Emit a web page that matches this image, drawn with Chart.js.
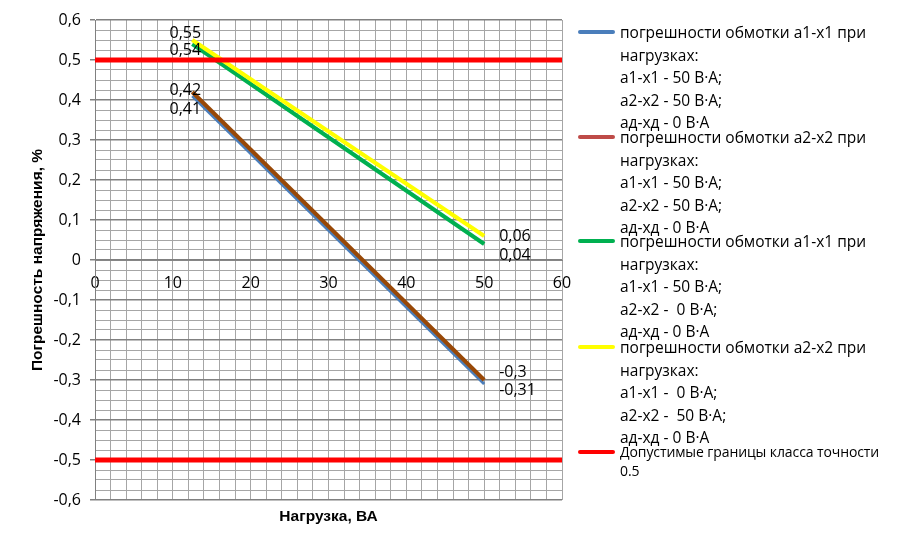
<!DOCTYPE html>
<html>
<head>
<meta charset="utf-8">
<script src="https://cdn.jsdelivr.net/npm/chart.js@4.4.0/dist/chart.umd.min.js"></script>
<style>
html, body { margin: 0; padding: 0; background: #fff; }
#wrap { position: relative; width: 905px; height: 548px; }
#legend { position: absolute; left: 0; top: 0; font-family: "Open Sans", sans-serif; color: #000; }
.item { position: absolute; left: 578px; }
.mark { position: absolute; left: 0; width: 37px; height: 4px; border-radius: 2px; }
.txt { position: absolute; left: 42px; top: -11px; white-space: pre; font-size: 15.5px; line-height: 22.5px; }
.txt.small { font-size: 14px; line-height: 19px; top: -10px; letter-spacing: -0.1px; }
</style>
</head>
<body>
<div id="wrap">
  <canvas id="errChart" width="905" height="548"></canvas>
  <div id="legend"></div>
</div>
<script>
// нагрузка, ВА
var loads = [12.5, 50];
// погрешности напряжения, %
var errA1Both = [0.41, -0.31];
var errA2Both = [0.42, -0.3];
var errA1Only = [0.54, 0.04];
var errA2Only = [0.55, 0.06];
// допустимые границы
var limitX = [0, 60];
var limitUpper = [0.5, 0.5];
var limitLower = [-0.5, -0.5];

var xTickLabels = [0, 10, 20, 30, 40, 50, 60];
var yTickLabels = [-0.6, -0.5, -0.4, -0.3, -0.2, -0.1, 0, 0.1, 0.2, 0.3, 0.4, 0.5, 0.6];

var seriesNames = [
    'погрешности обмотки а1-х1 при\nнагрузках:\nа1-х1 - 50 В·А;\nа2-х2 - 50 В·А;\nад-хд - 0 В·А',
    'погрешности обмотки а2-х2 при\nнагрузках:\nа1-х1 - 50 В·А;\nа2-х2 - 50 В·А;\nад-хд - 0 В·А',
    'погрешности обмотки а1-х1 при\nнагрузках:\nа1-х1 - 50 В·А;\nа2-х2 -  0 В·А;\nад-хд - 0 В·А',
    'погрешности обмотки а2-х2 при\nнагрузках:\nа1-х1 -  0 В·А;\nа2-х2 -  50 В·А;\nад-хд - 0 В·А',
    'Допустимые границы класса точности\n0.5'
];

var numFont = '"Open Sans", sans-serif';
var titleFont = '"Liberation Sans", Arial, sans-serif';

function pts(xs, ys) {
    return xs.map(function (x, i) { return { x: x, y: ys[i] }; });
}
function fmt(v) {
    var r = Math.round(v * 100) / 100;
    if (r === 0) return '0';
    return String(r).replace('.', ',');
}
function isMajorY(v) {
    return Math.round(v * 40) % 4 === 0;
}

// подписи значений на концах линий
var valueLabels = {
    id: 'valueLabels',
    afterDatasetsDraw: function (chart) {
        var ctx = chart.ctx;
        ctx.save();
        ctx.font = '16px ' + numFont;
        ctx.fillStyle = '#000';
        ctx.textBaseline = 'middle';
        chart.data.datasets.forEach(function (ds, i) {
            if (!ds.labelShift) return;
            var meta = chart.getDatasetMeta(i);
            var first = meta.data[0], last = meta.data[meta.data.length - 1];
            ctx.textAlign = 'center';
            ctx.fillText(fmt(ds.data[0].y), first.x + ds.labelShift.start[0], first.y + ds.labelShift.start[1]);
            ctx.textAlign = 'left';
            ctx.fillText(fmt(ds.data[ds.data.length - 1].y), last.x + ds.labelShift.end[0], last.y + ds.labelShift.end[1]);
        });
        ctx.restore();
    }
};

var ctx = document.getElementById('errChart').getContext('2d');

var errChart = new Chart(ctx, {
    type: 'scatter',
    data: {
        datasets: [
            { data: pts(limitX, limitUpper), borderColor: '#ff0000', borderWidth: 5 },
            { data: pts(limitX, limitLower), borderColor: '#ff0000', borderWidth: 5 },
            { data: pts(loads, errA2Only), borderColor: '#ffff00', borderWidth: 4, labelShift: { start: [-7, -7], end: [15, 0] } },
            { data: pts(loads, errA1Only), borderColor: '#00b050', borderWidth: 4, labelShift: { start: [-7, 6], end: [15, 11] } },
            { data: pts(loads, errA2Both), borderColor: '#984807', borderWidth: 4, labelShift: { start: [-7, -2], end: [15, -8] } },
            { data: pts(loads, errA1Both), borderColor: '#4a7ebb', borderWidth: 3, labelShift: { start: [-7, 13], end: [15, 6] } }
        ].map(function (d) {
            d.showLine = true;
            d.pointRadius = 0;
            d.pointHoverRadius = 0;
            d.fill = false;
            d.tension = 0;
            return d;
        })
    },
    options: {
        responsive: false,
        animation: false,
        layout: { padding: { top: 20, right: 343, left: 0, bottom: 0 } },
        plugins: {
            legend: { display: false },
            tooltip: { enabled: false }
        },
        scales: {
            x: {
                type: 'linear',
                min: 0,
                max: 60,
                position: { y: 0 },
                ticks: {
                    stepSize: 2,
                    autoSkip: false,
                    maxTicksLimit: 100,
                    maxRotation: 0,
                    padding: 14,
                    color: '#000',
                    font: { family: numFont, size: 16 },
                    callback: function (v) { return xTickLabels.indexOf(v) >= 0 ? String(v) : ''; }
                },
                grid: { color: '#a6a6a6', lineWidth: 1, drawTicks: false },
                border: { color: '#868686' }
            },
            x2: {
                type: 'linear',
                position: 'bottom',
                min: 0,
                max: 60,
                ticks: { display: false },
                grid: { display: false },
                border: { display: false },
                title: {
                    display: true,
                    text: 'Нагрузка, ВА',
                    color: '#000',
                    font: { family: titleFont, size: 15.5, weight: 'bold' },
                    padding: { top: 0, bottom: 22 }
                },
                afterFit: function (s) { s.height = 48; }
            },
            y: {
                min: -0.6,
                max: 0.6,
                ticks: {
                    stepSize: 0.025,
                    autoSkip: false,
                    maxTicksLimit: 100,
                    padding: 9,
                    color: '#000',
                    font: { family: numFont, size: 16 },
                    callback: function (v) {
                        var t = Math.round(v * 10) / 10;
                        if (!isMajorY(v) || yTickLabels.indexOf(t) < 0) return '';
                        return fmt(t);
                    }
                },
                grid: {
                    color: function (c) { return c.tick && isMajorY(c.tick.value) ? '#808080' : '#a6a6a6'; },
                    lineWidth: function (c) { return c.tick && isMajorY(c.tick.value) ? 1.5 : 1; },
                    tickLength: 5,
                    tickColor: function (c) { return c.tick && isMajorY(c.tick.value) ? '#808080' : 'rgba(0,0,0,0)'; }
                },
                border: { color: '#808080' },
                title: {
                    display: true,
                    text: 'Погрешность напряжения, %',
                    color: '#000',
                    font: { family: titleFont, size: 15.5, weight: 'bold' },
                    padding: { top: 28, bottom: 0 }
                },
                afterFit: function (s) { s.width = 95; }
            }
        }
    },
    plugins: [valueLabels]
});

// легенда
var legendColors = ['#4a7ebb', '#be4b48', '#00b050', '#ffff00', '#ff0000'];
var legendTops = [32, 137, 241, 347, 452];
var legendBox = document.getElementById('legend');
seriesNames.forEach(function (name, i) {
    var item = document.createElement('div');
    item.className = 'item';
    item.style.top = legendTops[i] + 'px';
    var mark = document.createElement('div');
    mark.className = 'mark';
    mark.style.top = '-2px';
    mark.style.background = legendColors[i];
    var txt = document.createElement('div');
    txt.className = 'txt' + (i === 4 ? ' small' : '');
    txt.textContent = name;
    item.appendChild(mark);
    item.appendChild(txt);
    legendBox.appendChild(item);
});
</script>
</body>
</html>
